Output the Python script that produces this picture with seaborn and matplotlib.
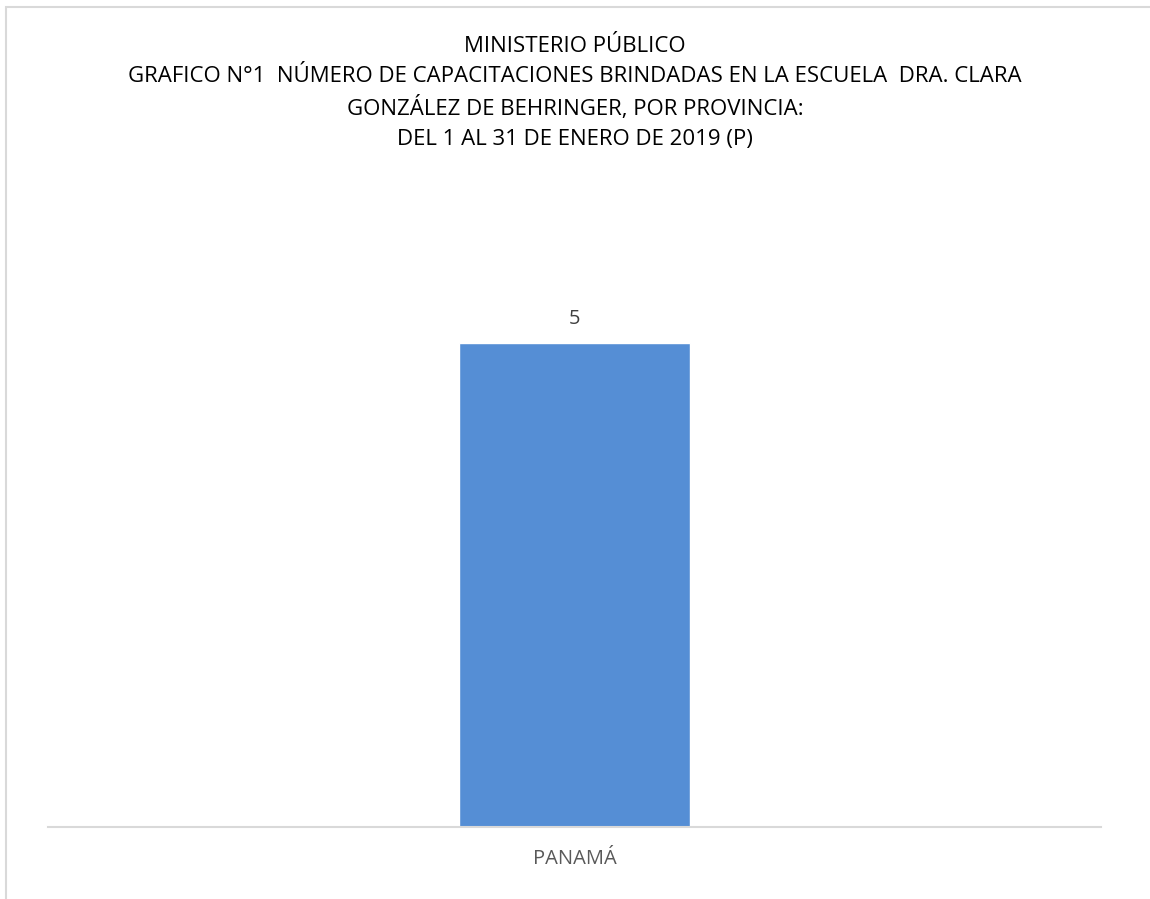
import numpy as np
import pandas as pd
import matplotlib
matplotlib.use("Agg")
import matplotlib.pyplot as plt
import seaborn as sns
from matplotlib.patches import Rectangle

provincias = ["PANAMÁ"]
capacitaciones = [5]

titulo = ["MINISTERIO PÚBLICO",
          "GRAFICO N°1  NÚMERO DE CAPACITACIONES BRINDADAS EN LA ESCUELA  DRA. CLARA",
          "GONZÁLEZ DE BEHRINGER, POR PROVINCIA:",
          "DEL 1 AL 31 DE ENERO DE 2019 (P)"]

sns.set_style("white")
plt.rcParams["font.family"] = ["Open Sans", "DejaVu Sans"]

df = pd.DataFrame({"provincia": provincias, "n": capacitaciones})

fig = plt.figure(figsize=(11.5, 8.99), dpi=100)
# chart border
fig.patches.append(Rectangle((6 / 1150, -0.1), 1.2, (899 - 7) / 899 + 0.1,
                             transform=fig.transFigure, fill=False,
                             edgecolor="#d9d9d9", linewidth=1.5))

ax = fig.add_axes([48 / 1150, 72 / 899, 1053 / 1150, 581 / 899])
sns.barplot(data=df, x="provincia", y="n", color="#558ED5", width=0.22,
            saturation=1, ax=ax)
ax.set_xlim(-0.5, 0.5)
ax.set_ylim(0, 6)
ax.set_yticks([])
ax.set_xlabel("")
ax.set_ylabel("")
for s in ["top", "left", "right"]:
    ax.spines[s].set_visible(False)
ax.spines["bottom"].set_color("#d9d9d9")
ax.spines["bottom"].set_linewidth(1.5)
ax.tick_params(axis="x", length=0, pad=16, labelsize=14.5, labelcolor="#595959")
ax.bar_label(ax.containers[0], fmt="%d", padding=10, fontsize=14.5, color="#404040")

for i, linea in enumerate(titulo):
    fig.text(0.5, 1 - (46 + 31 * i) / 899, linea, ha="center", va="center",
             fontsize=16, color="#000000")

fig.savefig("out.png", dpi=100, facecolor="white")
